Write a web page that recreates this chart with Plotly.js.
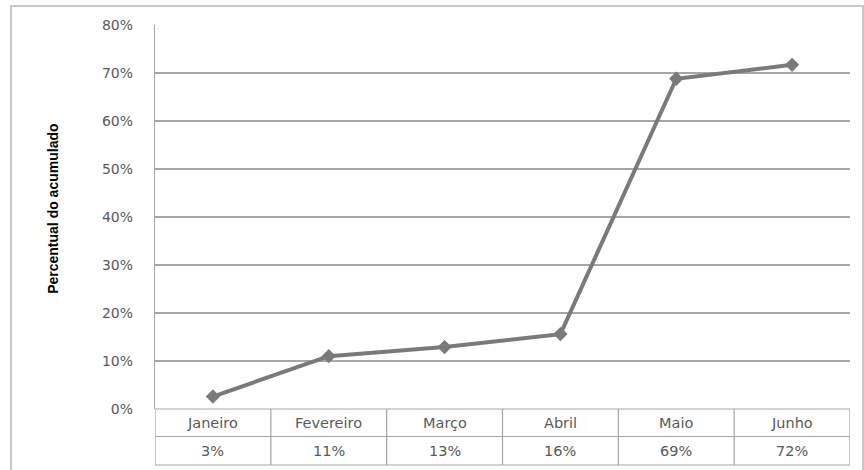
<!DOCTYPE html>
<html>
<head>
<meta charset="utf-8">
<script src="https://cdn.plot.ly/plotly-3.0.1.min.js"></script>
<style>html,body{margin:0;padding:0;background:#fff;}#chart{width:864px;height:470px;}</style>
</head>
<body>
<div id="chart"></div>
<script>
const months = ["Janeiro", "Fevereiro", "Março", "Abril", "Maio", "Junho"];
const accumulated = [0.026, 0.11, 0.129, 0.156, 0.688, 0.717];
const yTitle = "Percentual do acumulado";

const xIdx = months.map((_, i) => i);
const gray = "#7a7a7a";
const txt = "#595959";
const tickFont = {family: "DejaVu Sans", size: 14, color: txt};
const tableFont = {family: "DejaVu Sans", size: 14.5, color: txt};

// table geometry in paper units (plot height 384px)
const rowH = 27.5 / 384;
const row1Top = 0, row1Bot = -rowH, row2Bot = -56 / 384;

const shapes = [];
// outer chart border
shapes.push({type: "rect", xref: "paper", yref: "paper", x0: -0.2072, x1: 1.0187, y0: -0.25, y1: 1.0495,
  line: {color: "#c8c8c8", width: 2}, layer: "below"});
// table horizontal lines
[row1Top, row1Bot, row2Bot].forEach(y => shapes.push({type: "line", xref: "x", yref: "paper",
  x0: -0.5, x1: months.length - 0.5, y0: y, y1: y, line: {color: "#a6a6a6", width: 1.2}}));
// table vertical lines
for (let i = 0; i <= months.length; i++) {
  shapes.push({type: "line", xref: "x", yref: "paper", x0: i - 0.5, x1: i - 0.5, y0: row2Bot, y1: 0,
    line: {color: "#a6a6a6", width: 1.2}});
}

const annotations = [];
months.forEach((m, i) => {
  annotations.push({xref: "x", yref: "paper", x: i, y: (row1Top + row1Bot) / 2, text: m, showarrow: false,
    font: tableFont, xanchor: "center", yanchor: "middle"});
  annotations.push({xref: "x", yref: "paper", x: i, y: (row1Bot + row2Bot) / 2,
    text: Math.round(accumulated[i] * 100) + "%", showarrow: false, font: tableFont, xanchor: "center", yanchor: "middle"});
});
annotations.push({xref: "paper", yref: "paper", x: -0.146, y: 0.52, text: yTitle, textangle: -90, showarrow: false,
  font: {family: "Liberation Sans Narrow, Arial Narrow, Liberation Sans", size: 14, color: "#000", weight: "bold"},
  xanchor: "center", yanchor: "middle"});

const trace = {
  x: xIdx, y: accumulated, type: "scatter", mode: "lines+markers",
  line: {color: gray, width: 4},
  marker: {symbol: "diamond", size: 11, color: gray},
  hoverinfo: "skip", cliponaxis: false
};

const layout = {
  width: 864, height: 470,
  margin: {l: 155, r: 14, t: 25, b: 61},
  paper_bgcolor: "#fff", plot_bgcolor: "#fff",
  showlegend: false,
  xaxis: {range: [-0.5, months.length - 0.5], showticklabels: false, showgrid: false, zeroline: false,
    showline: false, ticks: "", fixedrange: true},
  yaxis: {range: [0, 0.8], dtick: 0.1, tick0: 0, tickformat: ".0%", showgrid: true, gridcolor: "#a6a6a6", gridwidth: 1.2,
    zeroline: false, showline: true, linecolor: "#a6a6a6", linewidth: 1.2, ticks: "", ticklabelstandoff: 18,
    tickfont: tickFont, fixedrange: true},
  shapes: shapes,
  annotations: annotations
};

Plotly.newPlot("chart", [trace], layout, {displayModeBar: false, staticPlot: true});
</script>
</body>
</html>
